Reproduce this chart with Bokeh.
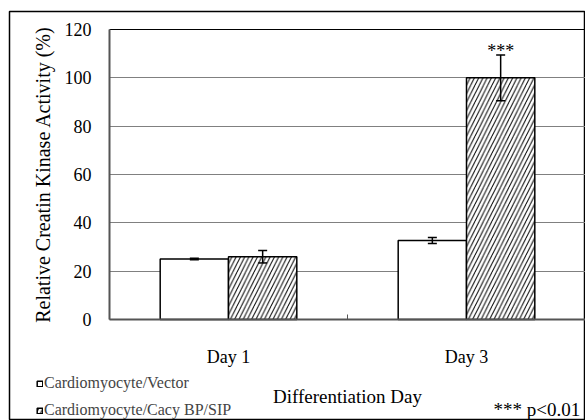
from bokeh.plotting import figure
from bokeh.models import (ColumnDataSource, Whisker, TeeHead, FixedTicker, Legend,
                          LegendItem, Label, Grid)
from bokeh.core.properties import value
from bokeh.embed import file_html
from bokeh.resources import INLINE

# ---- data ----
days = ["Day 1", "Day 3"]
vector_vals = [25.0, 32.7]
vector_err = [0.3, 1.2]
cacy_vals = [26.0, 100.0]
cacy_err = [2.6, 9.5]
significance = ["", "***"]
y_ticks = [0, 20, 40, 60, 80, 100, 120]
series_names = ["Cardiomyocyte/Vector", "Cardiomyocyte/Cacy BP/SIP"]
note = "*** p<0.01"

FONT = "Liberation Serif"
W, H = 585, 420
# frame (canvas px) = outer box; the axes sit inside it
FL, FT, FR, FB = 9, 11, 585, 420
AX_L, AX_T, AX_B = 109, 29, 319          # plot-area edges
YMAX = y_ticks[-1]
ncat = len(days)
px_x = (FR - AX_L) / ncat
px_y = (AX_B - AX_T) / YMAX
x_start = -(AX_L - FL) / px_x
y_start = -(FB - AX_B) / px_y
y_end = YMAX + (AX_T - FT) / px_y

def cx(px):
    return (px - AX_L) / px_x

def cy(py):
    return (AX_B - py) / px_y

centers = [i + 0.5 for i in range(ncat)]
bw = 0.287
x_vec = [c - bw / 2 for c in centers]
x_cacy = [c + bw / 2 for c in centers]

p = figure(width=W, height=H, x_range=(x_start, ncat), y_range=(y_start, y_end),
           output_backend="svg", toolbar_location=None,
           min_border_left=FL, min_border_right=W - FR, min_border_top=FT,
           min_border_bottom=H - FB, background_fill_color="white",
           border_fill_color="white")
p.outline_line_color = "black"
p.outline_line_width = 1.5

# grid (only across the plot area)
p.xgrid.visible = False
p.ygrid.ticker = FixedTicker(ticks=y_ticks[1:-1])
p.ygrid.grid_line_color = "#808080"
p.ygrid.grid_line_width = 1
p.ygrid.cross_bounds = (0, ncat)
top_line = Grid(dimension=1, ticker=FixedTicker(ticks=[YMAX]), cross_bounds=(0, ncat),
                grid_line_color="black", grid_line_width=1.2)
p.add_layout(top_line)

# bars
r_vec = p.vbar(x=x_vec, top=vector_vals, width=bw, fill_color="white",
               line_color="black", line_width=1.5)
r_cacy = p.vbar(x=x_cacy, top=cacy_vals, width=bw, fill_color="white",
                line_color="black", line_width=1.5, hatch_pattern="/",
                hatch_color="black", hatch_scale=8.5, hatch_weight=1)

# error bars
err_src = ColumnDataSource(dict(
    x=x_vec + x_cacy,
    upper=[v + e for v, e in zip(vector_vals, vector_err)] + [v + e for v, e in zip(cacy_vals, cacy_err)],
    lower=[v - e for v, e in zip(vector_vals, vector_err)] + [v - e for v, e in zip(cacy_vals, cacy_err)],
))
wh = Whisker(base="x", upper="upper", lower="lower", source=err_src,
             line_color="black", line_width=1.5,
             upper_head=TeeHead(size=9, line_width=1.5, line_color="black"),
             lower_head=TeeHead(size=9, line_width=1.5, line_color="black"))
wh.level = "overlay"
p.add_layout(wh)

# significance marks
sig_src = ColumnDataSource(dict(
    x=x_cacy,
    y=[v + e for v, e in zip(cacy_vals, cacy_err)],
    t=significance,
))
p.text(x="x", y="y", text="t", source=sig_src, text_align="center",
       text_baseline="alphabetic", text_font=value(FONT),
       text_font_size="18px", text_color="black", y_offset=-4)

# y axis, fixed at the plot-area's left edge
yax = p.yaxis[0]
yax.fixed_location = 0
yax.bounds = (0, YMAX)
yax.ticker = FixedTicker(ticks=y_ticks)
yax.major_tick_in = 0
yax.major_tick_out = 0
yax.minor_tick_in = 0
yax.minor_tick_out = 0
yax.axis_line_color = "#555555"
yax.axis_line_width = 2
yax.major_label_text_font = FONT
yax.major_label_text_font_size = "18px"
yax.major_label_text_color = "black"
yax.major_label_standoff = 18
yax.axis_label = "Relative Creatin Kinase Activity (%)"
yax.axis_label_text_font = FONT
yax.axis_label_text_font_style = "normal"
yax.axis_label_text_font_size = "20px"
yax.axis_label_text_color = "black"
yax.axis_label_standoff = 8

# x axis, fixed at y = 0
xax = p.xaxis[0]
xax.fixed_location = 0
xax.bounds = (0, ncat)
xax.ticker = FixedTicker(ticks=centers, minor_ticks=list(range(ncat + 1)))
xax.major_label_overrides = {c: d for c, d in zip(centers, days)}
xax.major_tick_in = 0
xax.major_tick_out = 0
xax.minor_tick_in = 5
xax.minor_tick_out = 0
xax.minor_tick_line_color = "#555555"
xax.axis_line_color = "#555555"
xax.axis_line_width = 2
xax.major_label_text_font = FONT
xax.major_label_text_font_size = "18px"
xax.major_label_text_color = "black"
xax.major_label_standoff = 27
xax.axis_label = "Differentiation Day"
xax.axis_label_text_font = FONT
xax.axis_label_text_font_style = "normal"
xax.axis_label_text_font_size = "19px"
xax.axis_label_text_color = "black"
xax.axis_label_standoff = 16

# legend
legend = Legend(items=[LegendItem(label=series_names[0], renderers=[r_vec]),
                       LegendItem(label=series_names[1], renderers=[r_cacy])],
                location=(36 - FL, 0), border_line_color=None,
                background_fill_alpha=0, label_text_font=FONT,
                label_text_font_size="16px", glyph_width=7, glyph_height=7,
                label_height=20, spacing=7, padding=0, margin=0,
                label_standoff=1)
p.add_layout(legend)

# note
p.add_layout(Label(x=cx(493), y=cy(419), text=note,
                   text_font=FONT, text_font_size="19px", text_color="black",
                   text_baseline="bottom"))

open("out.html", "w").write(file_html(p, INLINE))
